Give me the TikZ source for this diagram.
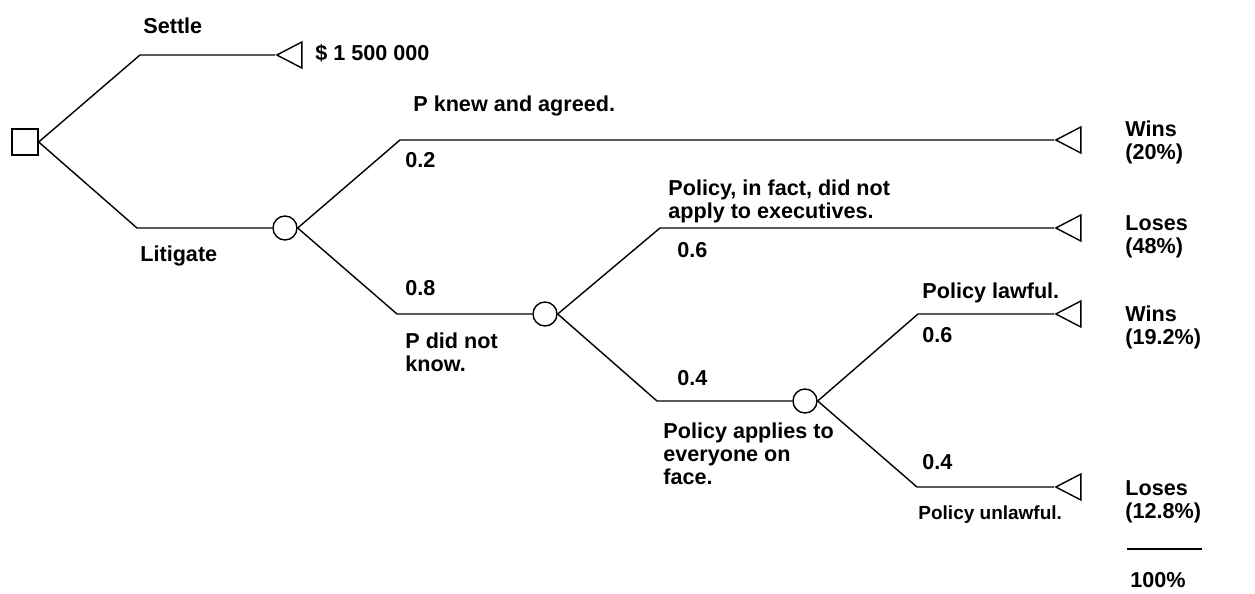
\documentclass[tikz,border=0pt]{standalone}
\usepackage{fontspec}
\setmainfont{Liberation Sans}
\usetikzlibrary{shapes.geometric}

\begin{document}
\begin{tikzpicture}[
  x=0.5pt, y=-0.5pt,
  decision/.style={
    draw,
    rectangle,
    minimum size=13pt,
    inner sep=0pt,
    line width=0.7pt
  },
  chance/.style={draw,circle,minimum size=12pt,inner sep=0pt,line width=0.7pt},
  payoff/.style={
    draw,
    isosceles triangle,
    isosceles triangle stretches,
    shape border rotate=180,
    minimum width=13pt,
    minimum height=12.5pt,
    inner sep=0pt,
    anchor=apex,
    line width=0.7pt
  },
  lbl/.style={anchor=north west,inner sep=0pt,align=left,font=\bfseries\fontsize{10.8}{11.7}\selectfont},
  small/.style={lbl,font=\bfseries\fontsize{9.5}{11}\selectfont},
  branch/.style={line width=0.7pt}
]
  \useasboundingbox (0,0) rectangle (1255,594);

  % decision and chance nodes
  \node[decision] (choice) at (25,142) {};
  \node[chance] (trial) at (285,228) {};
  \node[chance] (unaware) at (545,314) {};
  \node[chance] (applies) at (805,401) {};

  % end points
  \node[payoff] (settleEnd) at (275,55) {};
  \node[payoff] (agreedEnd) at (1054,140) {};
  \node[payoff] (execEnd) at (1054,228) {};
  \node[payoff] (lawfulEnd) at (1054,314) {};
  \node[payoff] (unlawfulEnd) at (1054,487) {};

  % corners of the branches
  \coordinate (settleBend) at (140,55);
  \coordinate (litigateBend) at (137,228);
  \coordinate (agreedBend) at (400,140);
  \coordinate (unawareBend) at (397,314);
  \coordinate (execBend) at (660,228);
  \coordinate (appliesBend) at (657,401);
  \coordinate (lawfulBend) at (918,314);
  \coordinate (unlawfulBend) at (917,487);

  \draw[branch] (choice.east) -- (settleBend) -- (settleEnd.apex);
  \draw[branch] (choice.east) -- (litigateBend) -- (trial.west);
  \draw[branch] (trial.east) -- (agreedBend) -- (agreedEnd.apex);
  \draw[branch] (trial.east) -- (unawareBend) -- (unaware.west);
  \draw[branch] (unaware.east) -- (execBend) -- (execEnd.apex);
  \draw[branch] (unaware.east) -- (appliesBend) -- (applies.west);
  \draw[branch] (applies.east) -- (lawfulBend) -- (lawfulEnd.apex);
  \draw[branch] (applies.east) -- (unlawfulBend) -- (unlawfulEnd.apex);

  % branch labels
  \node[lbl] (settleLbl) at (143,17) {Settle};
  \node[lbl] (amountLbl) at (315,44) {\$ 1 500 000};
  \node[lbl] (litigateLbl) at (140,245) {Litigate};
  \node[lbl] (agreedLbl) at (413,95) {P knew and agreed.};
  \node[lbl] (agreedP) at (405,152) {0.2};
  \node[lbl] (unawareP) at (405,280) {0.8};
  \node[lbl] (unawareLbl) at (405,332) {P did not\\know.};
  \node[lbl] (execLbl) at (668,179) {Policy, in fact, did not\\apply to executives.};
  \node[lbl] (execP) at (677,242) {0.6};
  \node[lbl] (appliesP) at (677,370) {0.4};
  \node[lbl] (appliesLbl) at (663,422) {Policy applies to\\everyone on\\face.};
  \node[lbl] (lawfulLbl) at (922,282) {Policy lawful.};
  \node[lbl] (lawfulP) at (922,327) {0.6};
  \node[lbl] (unlawfulP) at (922,454) {0.4};
  \node[small] (unlawfulLbl) at (918,505) {Policy unlawful.};

  % outcomes
  \node[lbl] (agreedOut) at (1125,120) {Wins\\(20\%)};
  \node[lbl] (execOut) at (1125,215) {Loses\\(48\%)};
  \node[lbl] (lawfulOut) at (1125,305) {Wins\\(19.2\%)};
  \node[lbl] (unlawfulOut) at (1125,480) {Loses\\(12.8\%)};
  \draw[branch] (1127,549) -- (1202,549);
  \node[lbl] (total) at (1130,572) {100\%};
\end{tikzpicture}
\end{document}
